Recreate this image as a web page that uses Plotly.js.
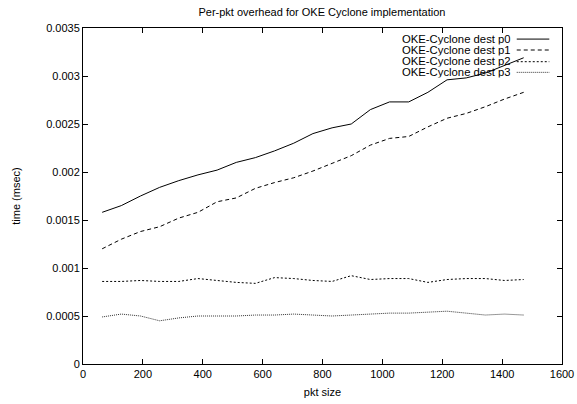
<!DOCTYPE html>
<html>
<head>
<meta charset="utf-8">
<script src="https://cdn.plot.ly/plotly-3.0.1.min.js"></script>
<style>html,body{margin:0;padding:0;background:#fff;}#chart{width:577px;height:404px;}</style>
</head>
<body>
<div id="chart"></div>
<script>
const pktSize = [64,128,192,256,320,384,448,512,576,640,704,768,832,896,960,1024,1088,1152,1216,1280,1344,1408,1472];
const destP0 = [0.00158,0.00165,0.00175,0.00184,0.00191,0.00197,0.00202,0.00210,0.00215,0.00222,0.00230,0.00240,0.00246,0.00250,0.00265,0.00273,0.00273,0.00283,0.00296,0.00298,0.00303,0.00311,0.00319];
const destP1 = [0.00120,0.00130,0.00138,0.00143,0.00152,0.00158,0.00169,0.00173,0.00183,0.00189,0.00194,0.00201,0.00209,0.00217,0.00228,0.00235,0.00237,0.00247,0.00256,0.00261,0.00268,0.00276,0.00283];
const destP2 = [0.00086,0.00086,0.00087,0.00086,0.00086,0.00089,0.00087,0.00085,0.00084,0.00090,0.00089,0.00087,0.00086,0.00092,0.00088,0.00089,0.00089,0.00085,0.00088,0.00089,0.00089,0.00087,0.00088];
const destP3 = [0.00049,0.00052,0.00050,0.00045,0.00048,0.00050,0.00050,0.00050,0.00051,0.00051,0.00052,0.00051,0.00050,0.00051,0.00052,0.00053,0.00053,0.00054,0.00055,0.00053,0.00051,0.00052,0.00051];
const seriesNames = ["OKE-Cyclone dest p0","OKE-Cyclone dest p1","OKE-Cyclone dest p2","OKE-Cyclone dest p3"];
const xTickVals = [0,200,400,600,800,1000,1200,1400,1600];
const xTickText = ["0","200","400","600","800","1000","1200","1400","1600"];
const yTickVals = [0,0.0005,0.001,0.0015,0.002,0.0025,0.003,0.0035];
const yTickText = ["0","0.0005","0.001","0.0015","0.002","0.0025","0.003","0.0035"];

const FONT = "Liberation Sans, Arial, Helvetica, sans-serif";
const dashes = ["solid","4px,3px","2px,2px","1px,1px"];
const colors = ["#000","#000","#000","#333"];
const ys = [destP0,destP1,destP2,destP3];

const traces = ys.map((y,i)=>({
  x: pktSize, y: y, type: "scatter", mode: "lines", name: seriesNames[i],
  line: {color: colors[i], width: 1, dash: dashes[i]}, showlegend: false
}));

const legY = [0.967,0.9345,0.8997,0.868];
const shapes = [], annotations = [];
legY.forEach((yy,i)=>{
  shapes.push({type:"line", xref:"paper", yref:"paper", x0:0.9055, x1:0.9735, y0:yy, y1:yy,
    line:{color:colors[i], width:1, dash:dashes[i]}});
  annotations.push({xref:"paper", yref:"paper", x:0.8965, y:yy, xanchor:"right", yanchor:"middle",
    text: seriesNames[i], showarrow:false, font:{family:FONT, size:11.3, color:"#000"},
    borderpad:0, height:10.5});
});

const axisCommon = {
  showline: true, linecolor: "#000", linewidth: 1, mirror: "ticks",
  ticks: "inside", ticklen: 5, tickcolor: "#000", tickwidth: 1,
  showgrid: false, zeroline: false, tickmode: "array",
  tickfont: {family: FONT, size: 11, color: "#000"}
};

const layout = {
  width: 577, height: 404,
  margin: {l: 82.5, r: 15, t: 28, b: 40},
  paper_bgcolor: "#fff", plot_bgcolor: "#fff",
  font: {family: FONT, size: 11, color: "#000"},
  title: {text: "Per-pkt overhead for OKE Cyclone implementation", font: {family: FONT, size: 11, color: "#000"},
          x: 0.558, xanchor: "center", y: 0.97, yanchor: "middle"},
  xaxis: Object.assign({}, axisCommon, {range: [0,1600], tickvals: xTickVals, ticktext: xTickText,
    title: {text: "pkt size", font: {family: FONT, size: 11, color: "#000"}, standoff: 9}}),
  yaxis: Object.assign({}, axisCommon, {range: [0,0.0035], tickvals: yTickVals, ticktext: yTickText,
    title: {text: "time (msec)", font: {family: FONT, size: 11, color: "#000"}, standoff: 23}}),
  shapes: shapes, annotations: annotations, showlegend: false
};

Plotly.newPlot("chart", traces, layout, {displayModeBar: false, staticPlot: true});
</script>
</body>
</html>
